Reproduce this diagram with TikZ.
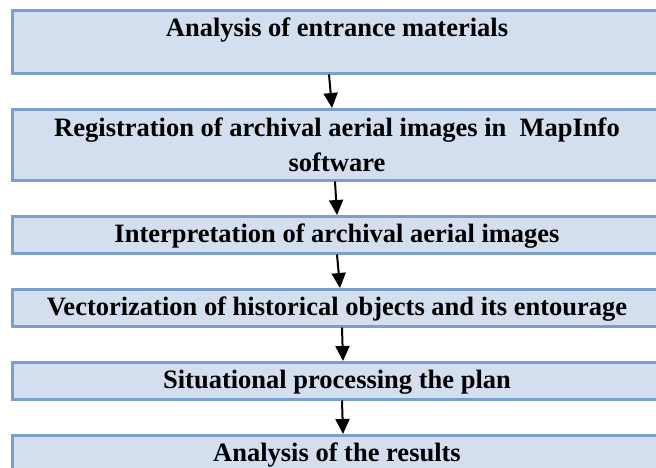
\documentclass[tikz,border=0pt]{standalone}
\usepackage{fontspec}
\setmainfont{Liberation Serif}
\usetikzlibrary{positioning,arrows.meta}
\definecolor{boxfill}{HTML}{D3DEEF}
\definecolor{boxline}{HTML}{7B9FCD}

\begin{document}
\begin{tikzpicture}[x=1pt,y=1pt,node distance=33.5pt,
	stage/.style={draw=boxline,fill=boxfill,line width=3pt,minimum width=650pt,inner xsep=4pt,inner ysep=8pt,text height=18pt,text depth=2.5pt,align=center,font=\bfseries\fontsize{26.5pt}{35pt}\selectfont},
	flow/.style={line width=2pt,-{Triangle[width=14pt,length=15pt]}}]
	\useasboundingbox (0,0) rectangle (656,-467);
	\clip (0,0) rectangle (656,-467);
	\node[stage,anchor=north,text depth=29pt] (analysis) at (337,-8.5) {Analysis of entrance materials};
	\node[stage,text height=53.5pt,text depth=1pt] (registration) [below=of analysis] {Registration of archival aerial images in\ \ MapInfo\\ software};
	\node[stage] (interpretation) [below=of registration] {Interpretation of archival aerial images};
	\node[stage] (vectorization) [below=of interpretation] {Vectorization of historical objects and its entourage};
	\node[stage] (situational) [below=of vectorization] {Situational processing the plan};
	\node[stage] (results) [below=of situational] {Analysis of the results};
	\path[flow]
	([xshift=-8pt]analysis.south) edge ([xshift=-5pt]registration.north)
	([xshift=-2pt]registration.south) edge (interpretation.north)
	(interpretation.south) edge ([xshift=3pt]vectorization.north)
	([xshift=5pt]vectorization.south) edge ([xshift=6pt]situational.north)
	([xshift=5pt]situational.south) edge ([xshift=6pt]results.north);
\end{tikzpicture}
\end{document}
